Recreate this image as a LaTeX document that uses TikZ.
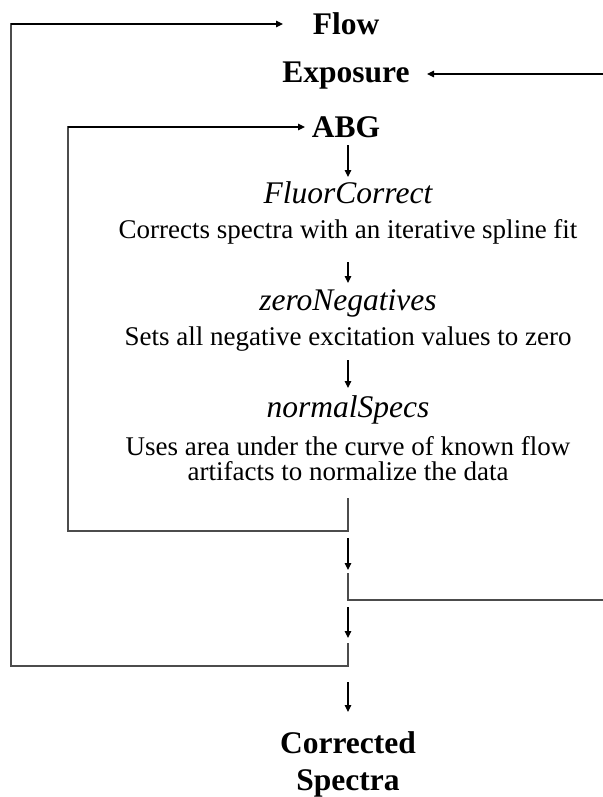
\documentclass[tikz,border=0pt]{standalone}
\usepackage{fontspec}
\setmainfont{Liberation Serif}
\usetikzlibrary{arrows.meta}
\begin{document}
\begin{tikzpicture}[x=1pt,y=-1pt,
  lbl/.style={font=\fontsize{31.5}{37}\selectfont\bfseries, inner sep=0pt, anchor=base},
  fn/.style={font=\fontsize{31.5}{37}\selectfont\itshape, inner sep=0pt, anchor=base},
  desc/.style={font=\fontsize{27}{25}\selectfont, inner sep=0pt, anchor=base},
  arr/.style={-{Triangle[length=7pt,width=6.5pt]}, line width=1.1pt, draw=black},
  loopline/.style={line width=1.3pt, draw=black!70}]
\useasboundingbox (0,0) rectangle (602,797);
% texts
\node[lbl] (flow) at (346,35) {Flow};
\node[lbl] (expo) at (346,83) {Exposure};
\node[lbl] (abg) at (346,138) {ABG};
\node[fn] (fluor) at (348,203) {FluorCorrect};
\node[desc] (d1) at (348,238) {Corrects spectra with an iterative spline fit};
\node[fn] (zero) at (348,310) {zeroNegatives};
\node[desc] (d2) at (348,345) {Sets all negative excitation values to zero};
\node[fn] (norm) at (348,417) {normalSpecs};
\node[desc] (d3a) at (348,455) {Uses area under the curve of known flow};
\node[desc] (d3b) at (348,480) {artifacts to normalize the data};
\node[lbl] (cor1) at (348,753) {Corrected};
\node[lbl] (cor2) at (348,790) {Spectra};
% coordinates
\coordinate (a1s) at (348,145);
\coordinate (a1e) at (348,177);
\coordinate (a2s) at (348,262);
\coordinate (a2e) at (348,283);
\coordinate (a3s) at (348,360);
\coordinate (a3e) at (348,388);
\coordinate (j1t) at (348,498);
\coordinate (j1b) at (348,531);
\coordinate (l1b) at (68,531);
\coordinate (l1t) at (68,127);
\coordinate (abgin) at (305,127);
\coordinate (a4s) at (348,538);
\coordinate (a4e) at (348,570);
\coordinate (j2t) at (348,573);
\coordinate (j2b) at (348,600);
\coordinate (r2b) at (603,600);
\coordinate (r2t) at (603,74);
\coordinate (expin) at (427,74);
\coordinate (a5s) at (348,607);
\coordinate (a5e) at (348,638);
\coordinate (j3t) at (348,643);
\coordinate (j3b) at (348,666);
\coordinate (l3b) at (11,666);
\coordinate (l3t) at (11,24);
\coordinate (flowin) at (283,24);
\coordinate (a6s) at (348,682);
\coordinate (a6e) at (348,712);
% connectors
\draw[arr] (a1s) -- (a1e);
\draw[arr] (a2s) -- (a2e);
\draw[arr] (a3s) -- (a3e);
\draw[loopline] (j1t) -- (j1b) -- (l1b) -- (l1t) -- ++(3,0);
\draw[arr] (l1t) -- (abgin);
\draw[arr] (a4s) -- (a4e);
\draw[loopline] (j2t) -- (j2b) -- (r2b);
\draw[arr] (r2t) -- (expin);
\draw[arr] (a5s) -- (a5e);
\draw[loopline] (j3t) -- (j3b) -- (l3b) -- (l3t) -- ++(3,0);
\draw[arr] (l3t) -- (flowin);
\draw[arr] (a6s) -- (a6e);
\end{tikzpicture}
\end{document}
